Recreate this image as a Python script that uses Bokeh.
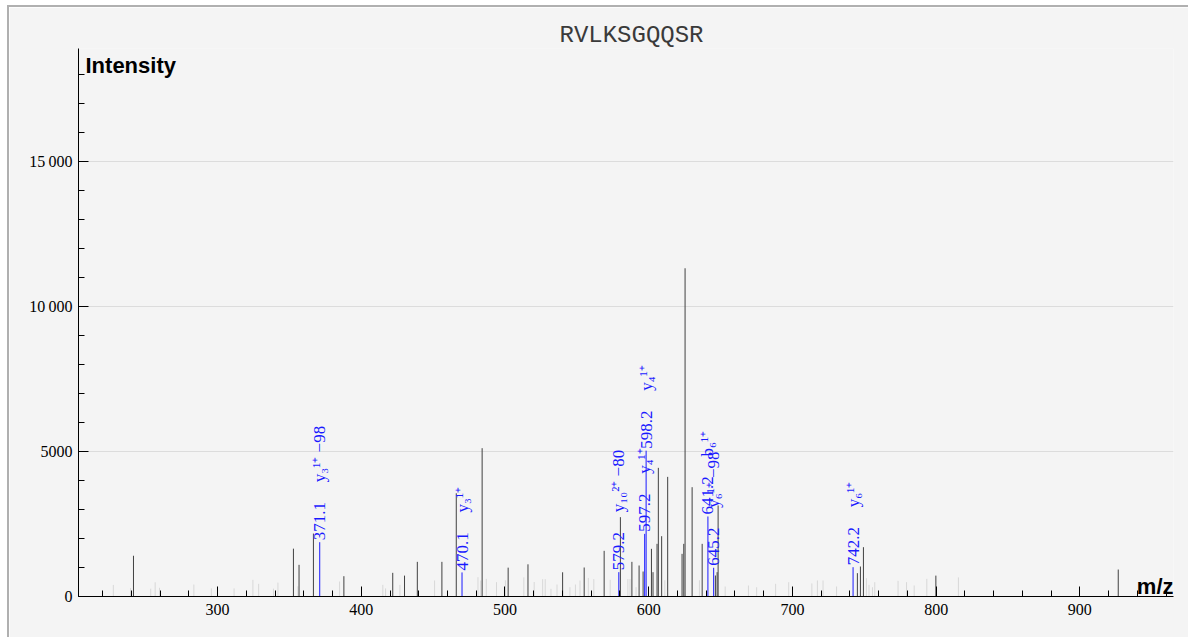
import math
from bokeh.plotting import figure
from bokeh.models import (SingleIntervalTicker, CustomJSTickFormatter, Label,
                          ColumnDataSource, Range1d)
from bokeh.core.properties import value
from bokeh.embed import file_html
from bokeh.resources import INLINE

# ---------------- data ----------------
title_text = "RVLKSGQQSR"
x_label = "m/z"
y_label = "Intensity"

# unannotated low (light grey) peaks
light_mz = [227.5, 239.5, 253.5, 256.6, 259.6, 283.5, 295.7, 311.5, 324.6, 328.6,
            338.9, 342.0, 355.9, 384.9, 415.0, 416.9, 426.9, 451.0, 481.2, 483.1,
            487.0, 494.1, 500.3, 513.1, 520.3, 526.2, 528.0, 532.0, 536.2, 545.2,
            549.0, 552.2, 558.0, 561.8, 573.2, 585.5, 587.0, 591.2, 611.2, 635.3,
            653.2, 669.4, 675.1, 688.3, 697.4, 713.5, 717.4, 721.3, 730.7, 751.5,
            753.3, 755.7, 757.3, 773.5, 779.4, 784.7, 793.5, 815.5]
light_int = [400, 290, 270, 490, 300, 414, 280, 280, 575, 437,
             270, 480, 350, 517, 402, 280, 402, 552, 667, 552,
             609, 494, 560, 660, 500, 598, 598, 264, 414, 322,
             414, 552, 640, 600, 575, 600, 600, 322, 560, 560,
             345, 379, 320, 437, 494, 450, 552, 552, 345, 632,
             400, 320, 494, 540, 494, 380, 609, 660]

# unannotated (dark grey) peaks
dark_mz = [241.5, 352.8, 356.7, 366.7, 387.9, 421.9, 430.1, 439.0, 456.1, 466.1,
           484.1, 502.2, 516.0, 540.1, 555.1, 569.0, 580.3, 588.3, 593.3, 596.1,
           601.9, 603.0, 605.8, 606.7, 609.0, 613.2, 623.2, 624.4, 625.3, 630.2,
           637.2, 646.4, 647.6, 648.3, 745.2, 747.3, 749.4, 799.8, 926.7]
dark_int = [1405, 1650, 1092, 2170, 700, 816, 720, 1195, 1195, 3560,
            5115, 995, 1110, 835, 1000, 1575, 2736, 1195, 1069, 862,
            1644, 839, 1816, 4437, 2080, 4126, 1471, 1816, 11320, 3770,
            1816, 724, 839, 3140, 805, 1034, 1701, 720, 930]

# annotated fragment ions (blue)
ion_mz = [371.1, 470.1, 579.2, 597.2, 598.2, 641.2, 645.2, 742.2]
ion_int = [1873, 830, 840, 2160, 5030, 2760, 990, 1011]
ion_names = ["y\u2083\u00b9\u207a \u221298", "y\u2083\u00b9\u207a",
             "y\u2081\u2080\u00b2\u207a \u221280", "y\u2084\u00b9\u207a",
             "y\u2084\u00b9\u207a", "b\u2086\u00b9\u207a",
             "y\u2086\u00b9\u207a \u221298", "y\u2086\u00b9\u207a"]
ion_mz_text = ["%.1f" % m for m in ion_mz]

x_start, x_end = 203.25, 965.15
y_start, y_end = 0, 18900

# ---------------- figure ----------------
BG = "#f4f4f4"
p = figure(width=1181, height=632, output_backend="svg", toolbar_location=None,
           x_range=Range1d(x_start, x_end), y_range=Range1d(y_start, y_end),
           min_border_left=69, min_border_right=17, min_border_top=41,
           min_border_bottom=43, background_fill_color=BG,
           border_fill_color=BG, outline_line_color=None)
p.styles = {"margin-left": "7px", "margin-top": "5px",
            "border-left": "2px solid #b0b0b0", "border-top": "2px solid #b0b0b0"}

p.title.text = title_text
p.title.align = "left"
p.title.offset = 481
p.title.standoff = 0
p.title.text_font = "Liberation Mono"
p.title.text_font_style = "normal"
p.title.text_font_size = "24px"
p.title.text_color = "#3a3a3a"

p.xaxis.ticker = SingleIntervalTicker(interval=100, num_minor_ticks=5)
p.yaxis.ticker = SingleIntervalTicker(interval=5000, num_minor_ticks=5)
p.yaxis.formatter = CustomJSTickFormatter(code="""
const s = Math.round(tick).toString();
if (s.length <= 4) { return s; }
return s.slice(0, s.length - 3) + "\u2009" + s.slice(s.length - 3);
""")
for ax in (p.xaxis, p.yaxis):
    ax.axis_line_color = "black"
    ax.major_tick_line_color = "black"
    ax.minor_tick_line_color = "black"
    ax.major_tick_in = 10
    ax.major_tick_out = 0
    ax.minor_tick_in = 6
    ax.minor_tick_out = 0
    ax.major_label_text_font = "Liberation Serif"
    ax.major_label_text_font_size = "16px"
    ax.major_label_text_color = "black"
p.yaxis.major_label_standoff = 6
p.xaxis.major_label_standoff = 7
p.xgrid.visible = False
p.ygrid.grid_line_color = "#dcdcdc"

light_src = ColumnDataSource(dict(mz=light_mz, inten=light_int))
dark_src = ColumnDataSource(dict(mz=dark_mz, inten=dark_int))
ion_src = ColumnDataSource(dict(mz=ion_mz, inten=ion_int, name=ion_names, lab=ion_mz_text))

p.segment(x0="mz", y0=0, x1="mz", y1="inten", source=light_src,
          line_color="#d8d8d8", line_width=1)
p.segment(x0="mz", y0=0, x1="mz", y1="inten", source=dark_src,
          line_color="#404040", line_width=1)
p.segment(x0="mz", y0=0, x1="mz", y1="inten", source=ion_src,
          line_color="#1a1aff", line_width=1)

p.text(x="mz", y="inten", text="lab", source=ion_src, angle=math.pi / 2,
       y_offset=-2, text_align="left", text_baseline="middle",
       text_font=value("Liberation Serif"), text_font_size="17px",
       text_color="#1a1aff")
p.text(x="mz", y="inten", text="name", source=ion_src, angle=math.pi / 2,
       y_offset=-60, text_align="left", text_baseline="middle",
       text_font=value("Liberation Serif"), text_font_size="17px",
       text_color="#1a1aff")

p.add_layout(Label(x=x_start, y=18310, x_offset=7, text=y_label,
                   text_font="Liberation Sans", text_font_style="bold",
                   text_font_size="22px", text_baseline="alphabetic",
                   text_color="black"))
p.add_layout(Label(x=x_end, y=350, text=x_label, text_align="right",
                   text_font="Liberation Sans", text_font_style="bold",
                   text_font_size="22px", text_baseline="alphabetic",
                   text_color="black"))

open("out.html", "w").write(file_html(p, INLINE))
